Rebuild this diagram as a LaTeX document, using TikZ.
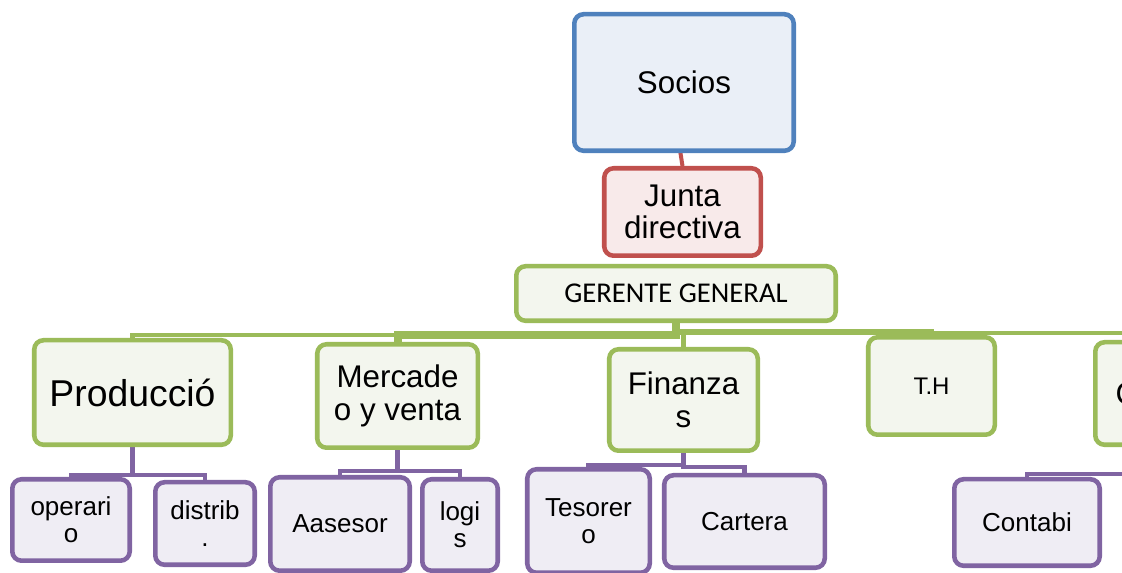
\documentclass[tikz,border=0pt]{standalone}
\usepackage{fontspec}
\setmainfont{Liberation Sans}
\newfontfamily\calfont{Carlito}
\usetikzlibrary{backgrounds}
\definecolor{sblue}{HTML}{4F81BD}
\definecolor{sbluef}{HTML}{EAEFF7}
\definecolor{sred}{HTML}{C0504D}
\definecolor{sredf}{HTML}{F8EAEA}
\definecolor{sgreen}{HTML}{9BBB59}
\definecolor{sgreenf}{HTML}{F3F6EE}
\definecolor{spurple}{HTML}{8064A2}
\definecolor{spurplef}{HTML}{EFEDF4}
\begin{document}
\begin{tikzpicture}[x=0.75pt,y=-0.75pt,
  box/.style={rectangle, rounded corners=7pt, line width=3.4pt, align=center, inner sep=0pt},
  bluebox/.style={box, draw=sblue, fill=sbluef},
  redbox/.style={box, draw=sred, fill=sredf},
  greenbox/.style={box, draw=sgreen, fill=sgreenf},
  purplebox/.style={box, draw=spurple, fill=spurplef},
  bigtxt/.style={font=\fontsize{23.5pt}{24.5pt}\selectfont},
  hugetxt/.style={font=\fontsize{28pt}{29pt}\selectfont},
  midtxt/.style={font=\fontsize{19.5pt}{20.5pt}\selectfont},
  smalltxt/.style={font=\fontsize{18pt}{19pt}\selectfont},
  gertxt/.style={font=\calfont\fontsize{21.5pt}{22pt}\selectfont},
  gconn/.style={draw=sgreen, line width=3.4pt},
  pconn/.style={draw=spurple, line width=3.4pt},
  rconn/.style={draw=sred, line width=3pt}
]
\useasboundingbox (0,0) rectangle (1122,573);
\clip (0,0) rectangle (1122,573);

% level 0-1
\node[bluebox, bigtxt, minimum width=164.6pt, minimum height=102.4pt] (socios) at (684,82.5) {Socios};
\node[redbox, bigtxt, minimum width=117.4pt, minimum height=65.6pt] (junta) at (682.5,212) {Junta\\directiva};
\node[greenbox, gertxt, minimum width=239.6pt, minimum height=40.9pt] (ger) at (676,293.5) {GERENTE GENERAL};
\coordinate (sbot) at (680,150);

% level 2
\node[greenbox, hugetxt, minimum width=147.4pt, minimum height=78.4pt] (prod) at (132.5,392.5) {Producció};
\node[greenbox, bigtxt, minimum width=120.4pt, minimum height=77.6pt] (merc) at (397.5,396) {Mercade\\o y venta};
\node[greenbox, bigtxt, minimum width=111.4pt, minimum height=76.1pt] (fin) at (683.5,400) {Finanza\\s};
\node[greenbox, smalltxt, minimum width=94.9pt, minimum height=73.1pt] (th) at (931.5,386) {T.H};
\node[greenbox, bigtxt, minimum width=146.6pt, minimum height=76.9pt, text width=116pt, align=left] (cc) at (1193,393.5) {C};

% level 3
\node[purplebox, midtxt, minimum width=88.1pt, minimum height=61.1pt] (oper) at (71,520) {operari\\o};
\node[purplebox, midtxt, minimum width=74.6pt, minimum height=61.9pt] (dist) at (205,523.5) {distrib\\.};
\node[purplebox, midtxt, minimum width=104.6pt, minimum height=70.1pt] (ases) at (340,524) {Aasesor};
\node[purplebox, midtxt, minimum width=56.6pt, minimum height=68.6pt] (logi) at (460,525) {logi\\s};
\node[purplebox, midtxt, minimum width=91.9pt, minimum height=77.6pt] (teso) at (588.5,521) {Tesorer\\o};
\node[purplebox, midtxt, minimum width=120.4pt, minimum height=69.4pt] (cart) at (744.5,521.5) {Cartera};
\node[purplebox, midtxt, minimum width=109.1pt, minimum height=64.9pt] (cont) at (1027,522.5) {Contabi};

\begin{scope}[on background layer]
  \draw[rconn] (sbot) -- (junta.north);
  \draw[gconn] (ger.south) -- ++(0,12) -| (prod.north);
  \draw[gconn, line width=6pt] (ger.south) -- ++(0,12) -| (merc.north);
  \draw[gconn] (ger.south) -- ++(0,10) -| (fin.north);
  \draw[gconn] (ger.south) -- ++(0,8) -| (th.north);
  \draw[gconn] (ger.south) -- ++(0,10) -| (cc.north);
  \draw[pconn] (prod.south) -- ++(0,28) -| (oper.north);
  \draw[pconn] (prod.south) -- ++(0,28) -| (dist.north);
  \draw[pconn] (merc.south) -- ++(0,21) -| (ases.north);
  \draw[pconn] (merc.south) -- ++(0,21) -| (logi.north);
  \draw[pconn] (fin.south) -- ++(0,12) -| (teso.north);
  \draw[pconn] (fin.south) -- ++(0,14) -| (cart.north);
  \draw[pconn] (cc.south) -- ++(0,27) -| (cont.north);
\end{scope}
\end{tikzpicture}
\end{document}
